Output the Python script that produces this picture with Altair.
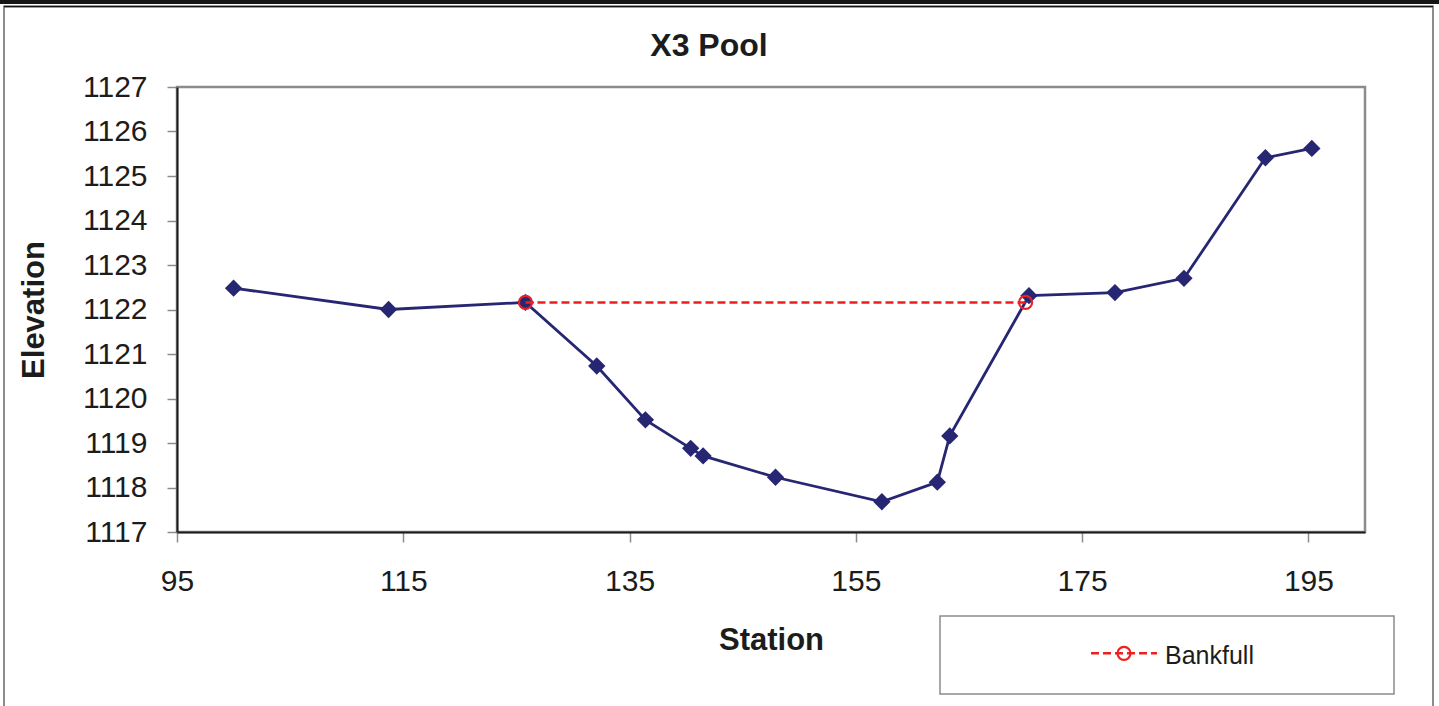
import altair as alt
import pandas as pd

# Surveyed cross-section X3 (pool): station vs. ground elevation
station = [100.0, 113.7, 125.8, 132.1, 136.4, 140.4, 141.5, 147.9,
           157.3, 162.2, 163.3, 170.3, 177.9, 184.0, 191.2, 195.3]
elevation = [1122.48, 1122.00, 1122.16, 1120.73, 1119.52, 1118.88, 1118.71, 1118.23,
             1117.68, 1118.12, 1119.16, 1122.31, 1122.38, 1122.70, 1125.41, 1125.62]

# Bankfull stage across the channel
bankfull_station = [125.8, 170.0]
bankfull_elevation = [1122.16, 1122.16]

x_ticks = [95, 115, 135, 155, 175, 195]
y_ticks = [1117, 1118, 1119, 1120, 1121, 1122, 1123, 1124, 1125, 1126, 1127]
legend_labels = ["Bankfull"]

FONT = "Liberation Sans, Arial, sans-serif"
NAVY = "#262673"
RED = "#F01E1E"
TEXT = "#1c1c1c"
FRAME = "#8c8c8c"

ground = pd.DataFrame({"Station": station, "Elevation": elevation})
bankfull = pd.DataFrame({"Station": bankfull_station, "Elevation": bankfull_elevation})
one = pd.DataFrame({"k": [0]})
legend_df = pd.DataFrame({"label": legend_labels})

x_enc = alt.X(
    "Station:Q",
    scale=alt.Scale(domain=[95, 200], nice=False, zero=False),
    axis=alt.Axis(
        values=x_ticks, format="d", title="Station", grid=False,
        labelFlush=False, labelOverlap=False,
        domainColor=TEXT, domainWidth=2,
        tickColor=FRAME, tickWidth=1.5, tickSize=10,
        labelFont=FONT, labelFontSize=30, labelColor=TEXT, labelPadding=24,
        titleFont=FONT, titleFontSize=31, titleFontWeight="bold", titleColor=TEXT,
        titleY=117, titleBaseline="alphabetic",
    ),
)
y_enc = alt.Y(
    "Elevation:Q",
    scale=alt.Scale(domain=[1117, 1127], nice=False, zero=False),
    axis=alt.Axis(
        values=y_ticks, format="d", title="Elevation", grid=False,
        labelFlush=False, labelOverlap=False,
        domainColor=TEXT, domainWidth=2,
        tickColor=FRAME, tickWidth=1.5, tickSize=10,
        labelFont=FONT, labelFontSize=30, labelColor=TEXT, labelPadding=20,
        titleFont=FONT, titleFontSize=31, titleFontWeight="bold", titleColor=TEXT,
        titleX=-134, titleAngle=-90, titleAlign="center", titleBaseline="alphabetic",
    ),
)

# Outer chart frame and top rule
frame = alt.Chart(one).mark_rect(fillOpacity=0, stroke=FRAME, strokeWidth=2).encode(
    x=alt.value(-173), x2=alt.value(1256), y=alt.value(-80.5), y2=alt.value(640)
)
top_bar = alt.Chart(one).mark_rect(color="#141414").encode(
    x=alt.value(-177), x2=alt.value(1262), y=alt.value(-87), y2=alt.value(-83)
)
top_rule = alt.Chart(one).mark_rule(color="#141414", strokeWidth=1.5).encode(
    x=alt.value(-173), x2=alt.value(1256), y=alt.value(-80.5)
)

title = alt.Chart(one).mark_text(
    text="X3 Pool", font=FONT, fontSize=32, fontWeight="bold", color=TEXT,
    align="center", baseline="alphabetic"
).encode(x=alt.value(532), y=alt.value(-31))

ground_line = alt.Chart(ground).mark_line(color=NAVY, strokeWidth=2.8).encode(x=x_enc, y=y_enc)
ground_pts = alt.Chart(ground).mark_point(
    shape="diamond", filled=True, size=300, color=NAVY, opacity=1
).encode(x="Station:Q", y="Elevation:Q")

bank_line = alt.Chart(bankfull).mark_line(
    color=RED, strokeWidth=2.5, strokeDash=[8, 4]
).encode(x="Station:Q", y="Elevation:Q")
bank_pts = alt.Chart(bankfull).mark_point(
    shape="circle", filled=False, size=170, color=RED, strokeWidth=2.2, opacity=1
).encode(x="Station:Q", y="Elevation:Q")

# Legend box
legend_box = alt.Chart(one).mark_rect(fill="white", stroke=FRAME, strokeWidth=1.5).encode(
    x=alt.value(763), x2=alt.value(1217), y=alt.value(529), y2=alt.value(607)
)
legend_line = alt.Chart(one).mark_rule(color=RED, strokeWidth=2.5, strokeDash=[8, 4]).encode(
    x=alt.value(914), x2=alt.value(980), y=alt.value(566.3)
)
legend_pt = alt.Chart(one).mark_point(
    shape="circle", filled=False, size=170, color=RED, strokeWidth=2.2, opacity=1
).encode(x=alt.value(947), y=alt.value(566.3))
legend_text = alt.Chart(legend_df).mark_text(
    font=FONT, fontSize=25, color=TEXT, align="left", baseline="alphabetic"
).encode(x=alt.value(988), y=alt.value(577), text="label:N")

chart = alt.layer(
    frame, top_bar, top_rule, title,
    ground_line, ground_pts, bank_line, bank_pts,
    legend_box, legend_line, legend_pt, legend_text,
).properties(
    width=1188, height=445,
    autosize="none",
    padding={"left": 177, "top": 87, "right": 74, "bottom": 174},
    background="white",
).configure_view(
    stroke=FRAME, strokeWidth=2.5
)

chart.save("out.html", embed_options={"renderer": "svg", "actions": False})
